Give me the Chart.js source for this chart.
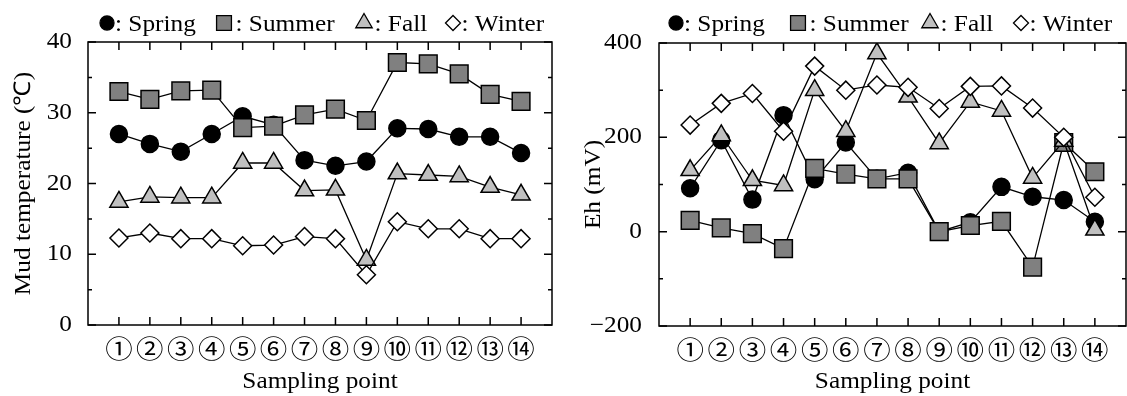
<!DOCTYPE html>
<html>
<head>
<meta charset="utf-8">
<script src="https://cdn.jsdelivr.net/npm/chart.js@4.4.1/dist/chart.umd.min.js"></script>
<style>
  html, body { margin: 0; padding: 0; background: #fff; width: 1127px; height: 396px; overflow: hidden; }
  .box { position: absolute; top: 0; height: 396px; }
  #box1 { left: 0; width: 566px; }
  #box2 { left: 566px; width: 574px; }
</style>
</head>
<body>
<div class="box" id="box1"><canvas id="chart1" width="566" height="396"></canvas></div>
<div class="box" id="box2"><canvas id="chart2" width="574" height="396"></canvas></div>
<script>
// sampling points 1..14, drawn as circled numbers
const samplingPoints = [1, 2, 3, 4, 5, 6, 7, 8, 9, 10, 11, 12, 13, 14]
const pointLabels = ['①', '②', '③', '④', '⑤', '⑥', '⑦', '⑧', '⑨', '⑩', '⑪', '⑫', '⑬', '⑭']
const seasons = ['Spring', 'Summer', 'Fall', 'Winter']

// mud temperature (°C)
const tempSpring = [27.0, 25.6, 24.5, 27.0, 29.5, 28.3, 23.3, 22.5, 23.1, 27.8, 27.7, 26.6, 26.6, 24.3]
const tempSummer = [33.0, 31.9, 33.1, 33.2, 27.9, 28.1, 29.7, 30.5, 28.9, 37.1, 36.9, 35.5, 32.6, 31.6]
const tempFall   = [17.4, 18.1, 18.0, 18.0, 22.9, 22.9, 19.0, 19.1, 9.2, 21.4, 21.2, 21.0, 19.5, 18.4]
const tempWinter = [12.3, 13.0, 12.2, 12.2, 11.2, 11.3, 12.5, 12.2, 7.1, 14.6, 13.6, 13.6, 12.2, 12.2]

// Eh (mV)
const ehSpring = [92, 194, 68, 247, 111, 189, 112, 125, 0, 20, 95, 74, 67, 21]
const ehSummer = [24, 8, -4, -36, 134, 122, 112, 112, 0, 13, 22, -75, 189, 127]
const ehFall   = [130, 204, 109, 98, 300, 213, 378, 286, 187, 275, 256, 114, 192, 4]
const ehWinter = [226, 272, 293, 213, 351, 300, 311, 306, 261, 308, 309, 262, 200, 73]

const tempTicks = [0, 10, 20, 30, 40]
const ehTicks = [-200, 0, 200, 400]

Chart.defaults.font.family = '"Liberation Serif", "Times New Roman", serif'
Chart.defaults.font.size = 23
Chart.defaults.color = '#000'

// the figure's lettering is a bit wider than Times, stretch text sideways
function widenText(ctx, sx) {
  const fill = ctx.fillText.bind(ctx)
  ctx.fillText = function (text, x, y) {
    ctx.save()
    ctx.translate(x, y)
    ctx.scale(sx, 1)
    fill(text, 0, 0)
    ctx.restore()
  }
}

const styles = [
  { pointStyle: 'circle',  radius: 8.5,  fill: '#000000', legendRadius: 7 },
  { pointStyle: 'rect',    radius: 12.5, fill: '#808080', legendRadius: 10.5 },
  { pointStyle: 'triangle', radius: 10.5, fill: '#c0c0c0', legendRadius: 9.5 },
  { pointStyle: 'rectRot', radius: 9,    fill: '#ffffff', legendRadius: 7.5 }
]

function toPoints(values) {
  return samplingPoints.map((p, i) => ({ x: p, y: values[i] }))
}

const frameTicks = {
  id: 'frameTicks',
  beforeDatasetsDraw(chart, args, opts) {
    const { ctx, chartArea: a, scales: { x, y } } = chart
    ctx.save()
    ctx.strokeStyle = '#000'
    ctx.lineWidth = 1.5
    ctx.strokeRect(a.left, a.top, a.right - a.left, a.bottom - a.top)
    ctx.beginPath()
    samplingPoints.forEach(p => {
      const px = x.getPixelForValue(p)
      ctx.moveTo(px, a.top); ctx.lineTo(px, a.top + 8)
      ctx.moveTo(px, a.bottom); ctx.lineTo(px, a.bottom - 8)
    })
    y.ticks.forEach(t => {
      const py = y.getPixelForValue(t.value)
      const len = t.value % opts.major === 0 ? 8 : 4
      ctx.moveTo(a.left, py); ctx.lineTo(a.left + len, py)
      ctx.moveTo(a.right, py); ctx.lineTo(a.right - len, py)
    })
    ctx.stroke()
    ctx.restore()
  }
}

const seasonLegend = {
  id: 'seasonLegend',
  afterDraw(chart, args, opts) {
    const ctx = chart.ctx
    ctx.save()
    ctx.font = '23px "Liberation Serif"'
    ctx.textBaseline = 'alphabetic'
    ctx.textAlign = 'left'
    ctx.lineWidth = 1.3
    ctx.strokeStyle = '#000'
    seasons.forEach((s, i) => {
      const st = styles[i]
      const cx = opts.xs[i]
      ctx.fillStyle = st.fill
      Chart.helpers.drawPoint(ctx, { pointStyle: st.pointStyle, radius: st.legendRadius, borderWidth: 1.3, rotation: 0 }, cx, 23)
      ctx.fillStyle = '#000'
      ctx.fillText(': ' + s, cx + st.legendRadius + 1, 31)
    })
    ctx.restore()
  }
}

function makeChart(canvasId, series, o) {
  const ctx = document.getElementById(canvasId).getContext('2d')
  widenText(ctx, 1.1)
  const datasets = series.map((values, i) => ({
    label: seasons[i],
    data: toPoints(values),
    showLine: true,
    borderColor: '#000',
    borderWidth: 1.3,
    pointStyle: styles[i].pointStyle,
    pointRadius: styles[i].radius,
    pointBackgroundColor: styles[i].fill,
    pointBorderColor: '#000',
    pointBorderWidth: 1.5,
    order: 3 - i
  }))
  return new Chart(ctx, {
    type: 'scatter',
    data: { datasets: datasets },
    options: {
      responsive: false,
      animation: false,
      layout: { padding: { top: o.top, right: o.right, bottom: 0, left: 0 } },
      plugins: {
        legend: { display: false },
        tooltip: { enabled: false },
        frameTicks: { major: o.major },
        seasonLegend: { xs: o.legendXs }
      },
      scales: {
        x: {
          type: 'linear',
          min: 0,
          max: 15,
          afterFit: scale => { scale.height = o.xHeight },
          afterBuildTicks: scale => { scale.ticks = [0].concat(samplingPoints, [15]).map(v => ({ value: v })) },
          grid: { display: false },
          border: { display: false },
          ticks: {
            autoSkip: false,
            maxRotation: 0,
            padding: 0,
            font: { family: '"Noto Sans CJK JP"', size: 25 },
            callback: v => pointLabels[v - 1] || ''
          },
          title: { display: true, text: 'Sampling point', padding: { top: 0, bottom: 0 } }
        },
        y: {
          min: o.yTicks[0],
          max: o.yTicks[o.yTicks.length - 1],
          afterFit: scale => { scale.width = o.yWidth },
          grid: { display: false },
          border: { display: false },
          ticks: {
            stepSize: o.major / 2,
            padding: o.labelPad,
            callback: v => o.yTicks.includes(v) ? String(v).replace('-', '\u2212') : ''
          },
          title: { display: true, text: o.yTitle, padding: { top: o.titlePad, bottom: 0 } }
        }
      }
    },
    plugins: [frameTicks, seasonLegend]
  })
}

makeChart('chart1', [tempSpring, tempSummer, tempFall, tempWinter], {
  top: 42, right: 4, xHeight: 71, yWidth: 88, labelPad: 8, titlePad: 10,
  major: 10, yTicks: tempTicks, yTitle: 'Mud temperature (\u2103)',
  legendXs: [107, 224, 364, 453]
})

makeChart('chart2', [ehSpring, ehSummer, ehFall, ehWinter], {
  top: 43, right: 10, xHeight: 70, yWidth: 93, labelPad: 9, titlePad: 14,
  major: 200, yTicks: ehTicks, yTitle: 'Eh (mV)',
  legendXs: [110, 232, 364, 455]
})
</script>
</body>
</html>
